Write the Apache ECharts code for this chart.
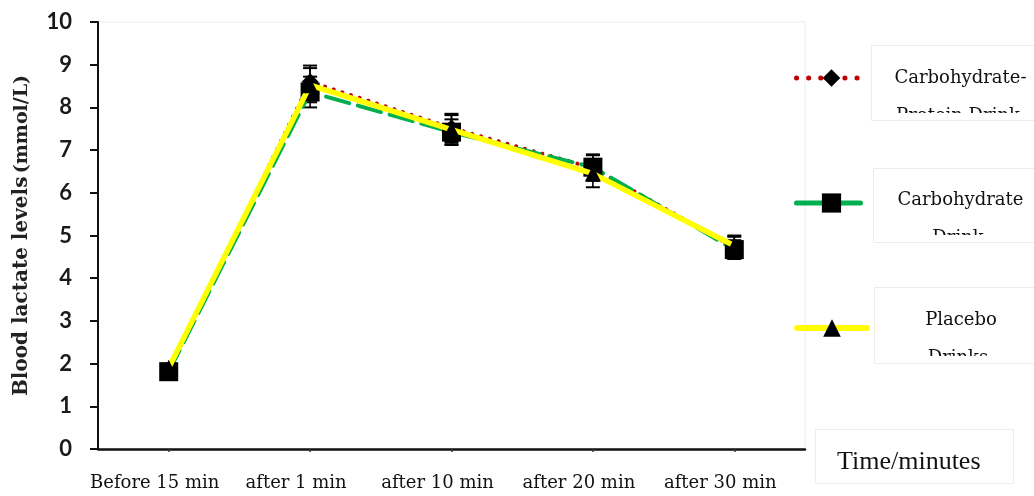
<!DOCTYPE html>
<html><head><meta charset="utf-8">
<script src="https://cdn.jsdelivr.net/npm/echarts/dist/echarts.min.js"></script>
<style>html,body{margin:0;padding:0;background:#fff}#c{width:1034px;height:496px}</style>
</head><body><div id="c"></div>
<script>
const categories = ['Before 15 min', 'after 1 min', 'after 10 min', 'after 20 min', 'after 30 min'];
const seriesNames = ['Carbohydrate-Protein Drink', 'Carbohydrate Drink', 'Placebo Drinks'];
const legendFirstLines = ['Carbohydrate-', 'Carbohydrate', 'Placebo'];
const legendSecondLines = ['Protein Drink', 'Drink', 'Drinks'];
const cpDrink = [1.85, 8.6, 7.52, 6.58, 4.72];
const cpErr = [0.1, 0.38, 0.33, 0.3, 0.25];
const cDrink = [1.81, 8.36, 7.42, 6.6, 4.67];
const cErr = [0.1, 0.36, 0.3, 0.3, 0.22];
const pDrink = [1.9, 8.52, 7.48, 6.45, 4.76];
const pErr = [0.1, 0.4, 0.34, 0.32, 0.24];
const yMin = 0, yMax = 10, yStep = 1;

function errData(vals, errs) {
  return vals.map((v, i) => [i, v - errs[i], v + errs[i]]);
}
function errRender(params, api) {
  const x = api.value(0), lo = api.value(1), hi = api.value(2);
  const p1 = api.coord([x, hi]), p2 = api.coord([x, lo]);
  const hw = 7;
  const st = {stroke: '#000', lineWidth: 1.6};
  return {type: 'group', children: [
    {type: 'line', shape: {x1: p1[0], y1: p1[1], x2: p2[0], y2: p2[1]}, style: st},
    {type: 'line', shape: {x1: p1[0] - hw, y1: p1[1], x2: p1[0] + hw, y2: p1[1]}, style: {stroke: '#000', lineWidth: 2}},
    {type: 'line', shape: {x1: p2[0] - hw, y1: p2[1], x2: p2[0] + hw, y2: p2[1]}, style: {stroke: '#000', lineWidth: 2}}
  ]};
}
const legendFont = {fontFamily: 'DejaVu Serif', fontSize: 18, color: '#111', lineHeight: 22};
function legendAt(idx, top, itemHeight, padBottom, lineStyle) {
  return {
    show: true, orient: 'vertical', left: 794, top: top, padding: 0,
    itemWidth: 70, itemHeight: itemHeight, selectedMode: false,
    data: [seriesNames[idx]],
    lineStyle: lineStyle,
    formatter: () => '{a|' + legendFirstLines[idx] + '}',
    textStyle: Object.assign({}, legendFont, {
      padding: [0, 0, padBottom, 0],
      rich: {a: Object.assign({}, legendFont, {width: 178, align: 'center'})}
    })
  };
}
const boxStroke = '#ececec';
const secondLineFont = '18px "DejaVu Serif"';
const option = {
  backgroundColor: '#fff',
  animation: false,
  grid: {left: 98, right: 229, top: 22, bottom: 47, show: true, borderColor: '#eeeeee', borderWidth: 1, backgroundColor: 'transparent'},
  legend: [
    legendAt(0, 67, 22, 0, {color: '#c00000', width: 5, type: [0.1, 12], cap: 'round'}),
    legendAt(1, 189, 24, 6, {color: '#00b050', width: 5, type: [28, 8], cap: 'round'}),
    legendAt(2, 309, 22, 16, {color: '#ffff00', width: 6, type: 'solid', cap: 'round'})
  ],
  xAxis: {
    type: 'category', data: categories, boundaryGap: true,
    name: 'Time/minutes', nameLocation: 'end', nameGap: 32,
    nameTextStyle: {fontFamily: 'Liberation Serif', fontSize: 26, color: '#111', verticalAlign: 'top', align: 'left'},
    axisLine: {lineStyle: {color: '#111', width: 2.5}},
    axisTick: {show: true, alignWithLabel: true, length: 3, lineStyle: {color: '#333', width: 1.5}},
    axisLabel: {interval: 0, margin: 25, padding: [0, 28, 0, 0], fontFamily: 'DejaVu Serif', fontSize: 18, color: '#111'},
    splitLine: {show: false}
  },
  yAxis: {
    type: 'value', min: yMin, max: yMax, interval: yStep,
    name: '{b|Blood lactate levels} {n|(mmol/L)}', nameLocation: 'middle', nameGap: 66,
    nameTextStyle: {rich: {
      b: {fontFamily: 'DejaVu Serif', fontWeight: 'bold', fontSize: 20, color: '#222'},
      n: {fontFamily: 'DejaVu Serif', fontWeight: 'bold', fontSize: 19, color: '#222'}
    }},
    axisLine: {show: true, lineStyle: {color: '#111', width: 2}},
    axisTick: {show: true, length: 8, inside: false, lineStyle: {color: '#111', width: 2}},
    axisLabel: {margin: 26, fontFamily: 'Lato', fontWeight: 'bold', fontSize: 22, color: '#1a1a1a'},
    splitLine: {show: false}
  },
  series: [
    {type: 'custom', name: 'errCP', renderItem: errRender, data: errData(cpDrink, cpErr), encode: {x: 0, y: [1, 2]}, z: 1, silent: true},
    {type: 'custom', name: 'errC', renderItem: errRender, data: errData(cDrink, cErr), encode: {x: 0, y: [1, 2]}, z: 1, silent: true},
    {type: 'custom', name: 'errP', renderItem: errRender, data: errData(pDrink, pErr), encode: {x: 0, y: [1, 2]}, z: 1, silent: true},
    {
      type: 'line', name: seriesNames[0], data: cpDrink, z: 2,
      symbol: 'diamond', symbolSize: 17, showSymbol: true,
      itemStyle: {color: '#000'},
      lineStyle: {color: '#c00000', width: 4, type: [0.1, 9], cap: 'round'}
    },
    {
      type: 'line', name: seriesNames[1], data: cDrink, z: 3,
      symbol: 'rect', symbolSize: 19, showSymbol: true,
      itemStyle: {color: '#000'},
      lineStyle: {color: '#00b050', width: 4, type: [24, 9], cap: 'round'}
    },
    {
      type: 'line', name: seriesNames[2], data: pDrink, z: 4,
      symbol: 'triangle', symbolSize: 16, showSymbol: true,
      itemStyle: {color: '#000'},
      lineStyle: {color: '#ffff00', width: 5.5, cap: 'round'}
    }
  ],
  graphic: {elements: [
    {type: 'text', x: 958, y: 116, z: 10, style: {text: legendSecondLines[0], align: 'center', verticalAlign: 'middle', fill: '#111', font: secondLineFont}},
    {type: 'text', x: 958, y: 238, z: 10, style: {text: legendSecondLines[1], align: 'center', verticalAlign: 'middle', fill: '#111', font: secondLineFont}},
    {type: 'text', x: 958, y: 358, z: 10, style: {text: legendSecondLines[2], align: 'center', verticalAlign: 'middle', fill: '#111', font: secondLineFont}},
    {type: 'rect', z: 20, shape: {x: 872, y: 113, width: 170, height: 7}, style: {fill: '#ffffff'}},
    {type: 'rect', z: 20, shape: {x: 874, y: 235, width: 170, height: 7}, style: {fill: '#ffffff'}},
    {type: 'rect', z: 20, shape: {x: 875, y: 356, width: 170, height: 7}, style: {fill: '#ffffff'}},
    {type: 'rect', z: 30, shape: {x: 871.5, y: 45.5, width: 200, height: 75}, style: {fill: 'none', stroke: boxStroke, lineWidth: 1}},
    {type: 'rect', z: 30, shape: {x: 873.5, y: 168.5, width: 200, height: 74}, style: {fill: 'none', stroke: boxStroke, lineWidth: 1}},
    {type: 'rect', z: 30, shape: {x: 874.5, y: 287.5, width: 200, height: 76}, style: {fill: 'none', stroke: boxStroke, lineWidth: 1}},
    {type: 'rect', z: 30, shape: {x: 815.5, y: 429.5, width: 198, height: 54}, style: {fill: 'none', stroke: boxStroke, lineWidth: 1}}
  ]}
};
const chart = echarts.init(document.getElementById('c'), null, {renderer: 'canvas'});
chart.setOption(option);
</script>
</body></html>
